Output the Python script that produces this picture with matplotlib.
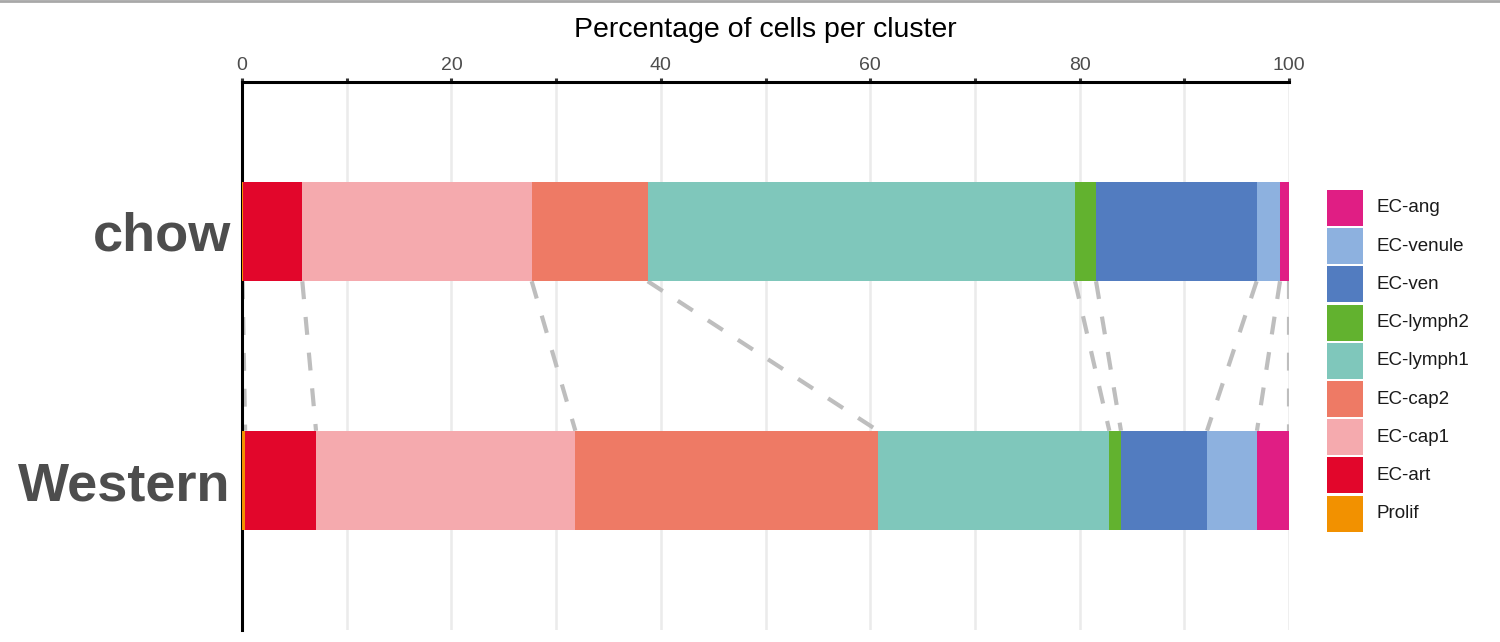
import numpy as np
import matplotlib
matplotlib.use("Agg")
import matplotlib.pyplot as plt
from matplotlib.patches import Rectangle
from matplotlib.lines import Line2D

plt.rcParams['font.family'] = ['Liberation Sans', 'DejaVu Sans']

clusters = ["Prolif", "EC-art", "EC-cap1", "EC-cap2", "EC-lymph1",
            "EC-lymph2", "EC-ven", "EC-venule", "EC-ang"]
colors = ["#F29100", "#E2062B", "#F5AAAE", "#EE7A65", "#7FC7BB",
          "#62B22F", "#527CC0", "#8DB1DF", "#E01E84"]
groups = ["Western", "chow"]
chow = [0.05, 5.71, 21.91, 11.08, 40.81, 2.01, 15.34, 2.23, 0.86]
western = [0.30, 6.77, 24.77, 28.90, 22.10, 1.11, 8.22, 4.77, 3.06]
xticks = [0, 10, 20, 30, 40, 50, 60, 70, 80, 90, 100]
xticklabels = ["0", "", "20", "", "40", "", "60", "", "80", "", "100"]

data = {"Western": western, "chow": chow}

W, H = 1500, 642
fig = plt.figure(figsize=(W/100, H/100), dpi=100)
ax = fig.add_axes([242/W, 1-630/H, (1289-242)/W, (630-82)/H])

bar_h = 0.4
ypos = {g: i for i, g in enumerate(groups)}
for g in groups:
    vals = np.array(data[g])
    left = np.concatenate([[0], np.cumsum(vals)[:-1]])
    ax.barh([ypos[g]]*len(vals), vals, left=left, height=bar_h,
            color=colors, edgecolor='none', zorder=3)

# connecting dashed lines between cumulative boundaries
c_chow = np.cumsum(chow)
c_west = np.cumsum(western)
for a, b in zip(c_chow, c_west):
    ax.plot([a, b], [ypos["chow"] - bar_h/2, ypos["Western"] + bar_h/2],
            color="#BEBEBE", lw=3, linestyle=(0, (4.3, 4.3)),
            solid_capstyle='butt', dash_capstyle='butt', zorder=2)

ax.set_xlim(0, 100)
ax.set_ylim(-0.6, 1.6)
ax.set_yticks([ypos[g] for g in groups])
ax.set_yticklabels(groups, fontsize=39, fontweight='bold', color='#4D4D4D')
ax.tick_params(axis='y', length=0, pad=8)
for lbl in ax.get_yticklabels():
    lbl.set_va('center_baseline')

ax.xaxis.tick_top()
ax.xaxis.set_label_position('top')
ax.set_xticks(xticks)
ax.set_xticklabels(xticklabels, fontsize=14, color='#4D4D4D')
ax.tick_params(axis='x', length=3.0, width=2.2, color='#333333', pad=2.5)
ax.set_xlabel("Percentage of cells per cluster", fontsize=20.5,
              color='black', labelpad=15)

ax.grid(axis='x', color='#EBEBEB', lw=1.8, zorder=0)
ax.set_axisbelow(True)
for s in ['right', 'bottom']:
    ax.spines[s].set_visible(False)
for s in ['top', 'left']:
    ax.spines[s].set_linewidth(2.2)
    ax.spines[s].set_color('black')

# legend (reversed order, EC-ang on top)
box_x, box_w, box_h, step, top0 = 1327, 36, 36, 38.2, 190
for i, (lab, col) in enumerate(list(zip(clusters, colors))[::-1]):
    y_top = top0 + i*step
    fig.add_artist(Rectangle((box_x/W, 1-(y_top+box_h)/H), box_w/W, box_h/H,
                             transform=fig.transFigure, facecolor=col,
                             edgecolor='none'))
    fig.text(1377/W, 1-(y_top+box_h/2)/H, lab, fontsize=13.5,
             color='#1A1A1A', va='center', ha='left')

# thin grey border line at top of image
fig.add_artist(Line2D([0, 1], [1-1/H, 1-1/H], transform=fig.transFigure,
                      color='#A8A8A8', lw=2))

fig.savefig("out.png", dpi=100)
